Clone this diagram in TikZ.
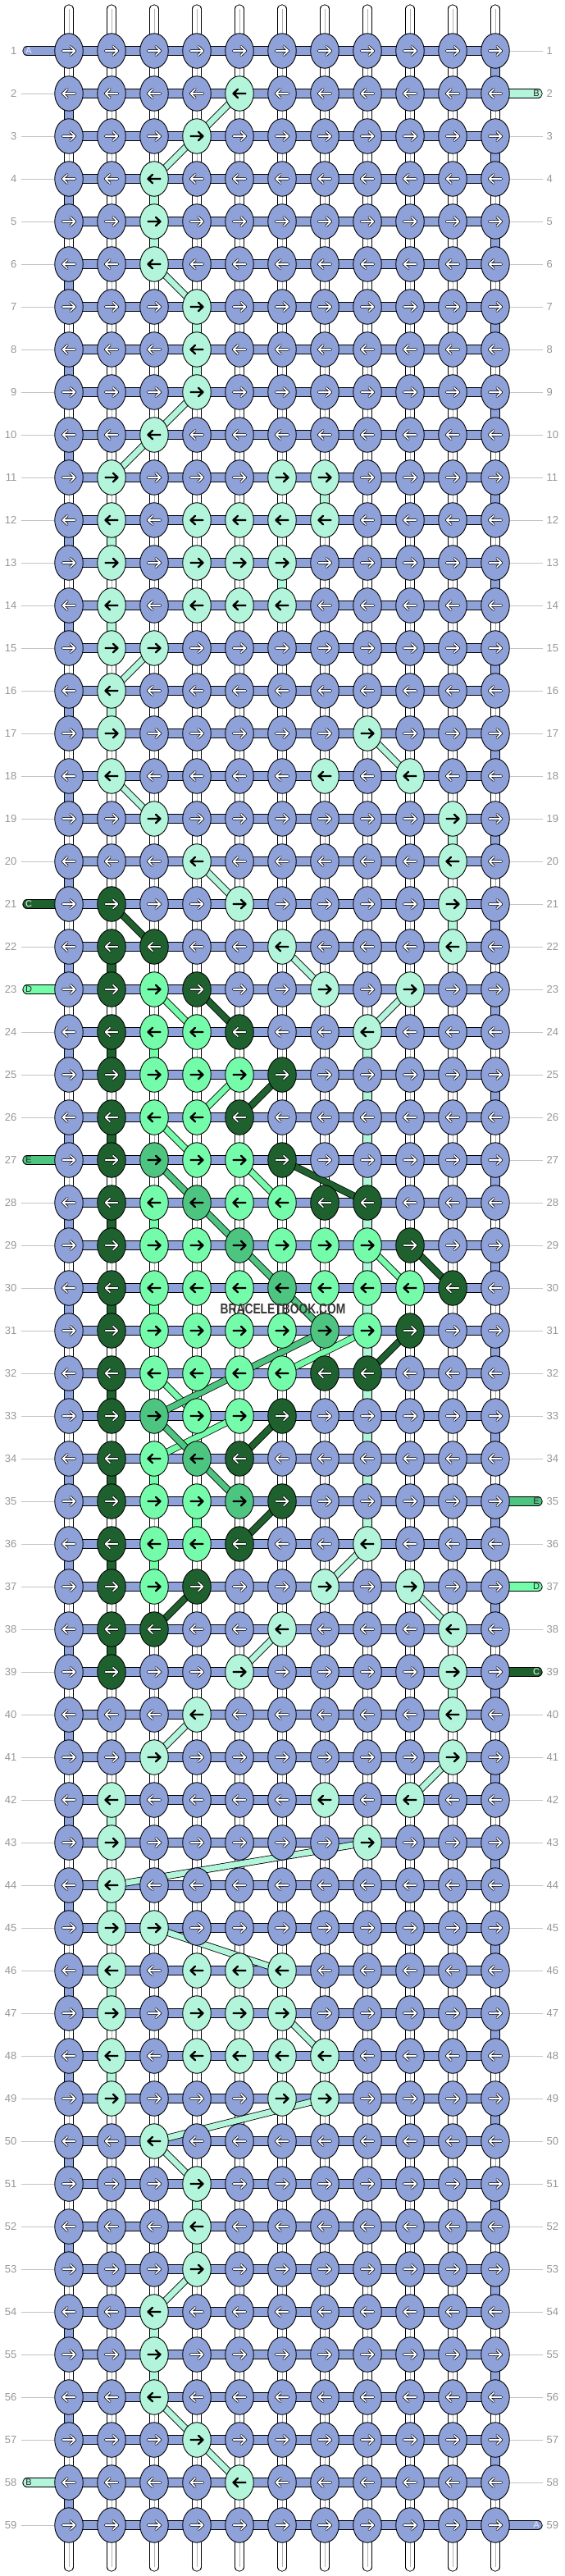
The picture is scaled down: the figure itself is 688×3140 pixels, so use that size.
\documentclass[tikz,border=0pt]{standalone}
\usepackage{graphicx}
\usepackage{fontspec}
\setmainfont{Liberation Sans}
\definecolor{threadA}{RGB}{142,161,217}
\definecolor{threadB}{RGB}{178,245,218}
\definecolor{threadC}{RGB}{31,97,46}
\definecolor{threadD}{RGB}{117,252,170}
\definecolor{threadE}{RGB}{77,196,128}
\definecolor{rowgrey}{RGB}{150,150,150}
\definecolor{tickgrey}{RGB}{195,195,195}
\usetikzlibrary{shapes.geometric}
\pgfdeclarelayer{strings}
\pgfdeclarelayer{bands}
\pgfdeclarelayer{threads}
\pgfsetlayers{strings,bands,threads,main}

\begin{document}
\begin{tikzpicture}[x=1pt,y=-1pt,
    knot/.style={draw,ellipse,line width=0.9pt,minimum width=34.5pt,minimum height=42.5pt,inner sep=0pt},
    basestring/.style={draw=black,line width=0.9pt,double=white,double distance=9.5pt,line cap=round},
    band/.style={draw=black,line width=0.9pt,double=#1,double distance=9.5pt,line cap=round},
    carry/.style={draw=black,line width=0.9pt,double=#1,double distance=9.5pt},
    cross/.style={draw=black,line width=0.8pt,double=#1,double distance=7pt},
    knotarrow/.pic={\draw[pic actions] (-7.5,0) -- (7,0) (2,-5.2) -- (7.5,0) -- (2,5.2);},
    whitearrow/.style={draw=black,line width=0.75pt,double=white,double distance=1.7pt,line cap=round,line join=round},
    blackarrow/.style={draw=black,line width=2.3pt,line cap=round,line join=round},
    arrowA/.style={whitearrow},
    arrowC/.style={whitearrow},
    arrowB/.style={blackarrow},
    arrowD/.style={blackarrow},
    arrowE/.style={blackarrow},
    rownum/.style={text=rowgrey,inner sep=2.5pt,font=\fontsize{13}{13}\selectfont},
    tick/.style={draw=tickgrey,line width=0.8pt},
    tailtext/.style={inner sep=0pt,font=\fontsize{11}{11}\selectfont},
    tailA/.style={tailtext,text=white!80!threadA},
    tailB/.style={tailtext,text=black!85},
    tailC/.style={tailtext,text=white},
    tailD/.style={tailtext,text=black!85},
    tailE/.style={tailtext,text=black!85}
    ]
    \useasboundingbox (0,0) rectangle (688,3140);

    % the knots, one list per row
    \foreach \r/\row in {
        1/{A,A,A,A,A,A,A,A,A,A,A},
        2/{A,A,A,A,B,A,A,A,A,A,A},
        3/{A,A,A,B,A,A,A,A,A,A,A},
        4/{A,A,B,A,A,A,A,A,A,A,A},
        5/{A,A,B,A,A,A,A,A,A,A,A},
        6/{A,A,B,A,A,A,A,A,A,A,A},
        7/{A,A,A,B,A,A,A,A,A,A,A},
        8/{A,A,A,B,A,A,A,A,A,A,A},
        9/{A,A,A,B,A,A,A,A,A,A,A},
        10/{A,A,B,A,A,A,A,A,A,A,A},
        11/{A,B,A,A,A,B,B,A,A,A,A},
        12/{A,B,A,B,B,B,B,A,A,A,A},
        13/{A,B,A,B,B,B,A,A,A,A,A},
        14/{A,B,A,B,B,B,A,A,A,A,A},
        15/{A,B,B,A,A,A,A,A,A,A,A},
        16/{A,B,A,A,A,A,A,A,A,A,A},
        17/{A,B,A,A,A,A,A,B,A,A,A},
        18/{A,B,A,A,A,A,B,A,B,A,A},
        19/{A,A,B,A,A,A,A,A,A,B,A},
        20/{A,A,A,B,A,A,A,A,A,B,A},
        21/{A,C,A,A,B,A,A,A,A,B,A},
        22/{A,C,C,A,A,B,A,A,A,B,A},
        23/{A,C,D,C,A,A,B,A,B,A,A},
        24/{A,C,D,D,C,A,A,B,A,A,A},
        25/{A,C,D,D,D,C,A,A,A,A,A},
        26/{A,C,D,D,C,A,A,A,A,A,A},
        27/{A,C,E,D,D,C,A,A,A,A,A},
        28/{A,C,D,E,D,D,C,C,A,A,A},
        29/{A,C,D,D,E,D,D,D,C,A,A},
        30/{A,C,D,D,D,E,D,D,D,C,A},
        31/{A,C,D,D,D,D,E,D,C,A,A},
        32/{A,C,D,D,D,D,C,C,A,A,A},
        33/{A,C,E,D,D,C,A,A,A,A,A},
        34/{A,C,D,E,C,A,A,A,A,A,A},
        35/{A,C,D,D,E,C,A,A,A,A,A},
        36/{A,C,D,D,C,A,A,B,A,A,A},
        37/{A,C,D,C,A,A,B,A,B,A,A},
        38/{A,C,C,A,A,B,A,A,A,B,A},
        39/{A,C,A,A,B,A,A,A,A,B,A},
        40/{A,A,A,B,A,A,A,A,A,B,A},
        41/{A,A,B,A,A,A,A,A,A,B,A},
        42/{A,B,A,A,A,A,B,A,B,A,A},
        43/{A,B,A,A,A,A,A,B,A,A,A},
        44/{A,B,A,A,A,A,A,A,A,A,A},
        45/{A,B,B,A,A,A,A,A,A,A,A},
        46/{A,B,A,B,B,B,A,A,A,A,A},
        47/{A,B,A,B,B,B,A,A,A,A,A},
        48/{A,B,A,B,B,B,B,A,A,A,A},
        49/{A,B,A,A,A,B,B,A,A,A,A},
        50/{A,A,B,A,A,A,A,A,A,A,A},
        51/{A,A,A,B,A,A,A,A,A,A,A},
        52/{A,A,A,B,A,A,A,A,A,A,A},
        53/{A,A,A,B,A,A,A,A,A,A,A},
        54/{A,A,B,A,A,A,A,A,A,A,A},
        55/{A,A,B,A,A,A,A,A,A,A,A},
        56/{A,A,B,A,A,A,A,A,A,A,A},
        57/{A,A,A,B,A,A,A,A,A,A,A},
        58/{A,A,A,A,B,A,A,A,A,A,A},
        59/{A,A,A,A,A,A,A,A,A,A,A}}{
      \foreach \t [count=\k from 0] in \row {
        \node[knot,fill=thread\t] (k-\r-\k) at ({84+52*\k},{10+52*\r}) {};
        \ifodd\r\relax
          \pic[arrow\t] at (k-\r-\k.center) {knotarrow};
        \else
          \pic[arrow\t,xscale=-1] at (k-\r-\k.center) {knotarrow};
        \fi
      }
      \begin{pgfonlayer}{bands}
        \draw[band=threadA] (k-\r-0.center) -- (k-\r-10.center);
      \end{pgfonlayer}
      \node[rownum,anchor=east] (ln-\r) at (23,{10+52*\r}) {\r};
      \node[rownum,anchor=west] (rn-\r) at (664,{10+52*\r}) {\r};
    }

    % the base strings
    \begin{pgfonlayer}{strings}
      \foreach \c in {0,...,10} {
        \coordinate (top-\c) at ([yshift=51pt]k-1-\c.center);
        \coordinate (bot-\c) at ([yshift=-51pt]k-59-\c.center);
        \draw[basestring] (top-\c) -- (bot-\c);
        \draw[draw=black!30,line width=0.5pt] (top-\c) -- (bot-\c);
      }
    \end{pgfonlayer}

    % row ticks
    \foreach \r in {2,...,20,22,24,25,26,28,29,...,57,59}
      \draw[tick] ([xshift=3pt]ln-\r.east) -- (k-\r-0.west);
    \foreach \r in {1,3,4,...,34,36,38,40,41,...,58}
      \draw[tick] (k-\r-10.east) -- ([xshift=-2pt]rn-\r.west);

    % loose ends of the threads
    \foreach \r/\t in {1/A,21/C,23/D,27/E,58/B} {
      \node[tail\t] (tail-\r) at (35,{10+52*\r}) {\t};
      \begin{pgfonlayer}{bands}
        \draw[band=thread\t] ([xshift=-2pt]tail-\r.center) -- (k-\r-0.center);
      \end{pgfonlayer}
    }
    \foreach \r/\t in {2/B,35/E,37/D,39/C,59/A} {
      \node[tail\t] (tail-\r) at (654,{10+52*\r}) {\t};
      \begin{pgfonlayer}{bands}
        \draw[band=thread\t] ([xshift=2pt]tail-\r.center) -- (k-\r-10.center);
      \end{pgfonlayer}
    }

    % the edges
    \begin{pgfonlayer}{threads}
      % thread A turning at the row ends
      \foreach \r in {1,3,...,57} {
        \pgfmathtruncatemacro\rn{\r+1}
        \draw[carry=threadA] (k-\r-10.center) -- (k-\rn-10.center);
      }
      \foreach \r in {2,4,...,58} {
        \pgfmathtruncatemacro\rn{\r+1}
        \draw[carry=threadA] (k-\r-0.center) -- (k-\rn-0.center);
      }
      % threads B to E
      \foreach \t/\ra/\ca/\rb/\cb in {
          B/2/4/3/3, B/3/3/4/2, B/4/2/5/2, B/5/2/6/2, B/6/2/7/3, B/7/3/8/3,
          B/8/3/9/3, B/9/3/10/2, B/10/2/11/1, B/11/6/12/6, B/12/1/13/1,
          B/13/5/14/5, B/14/1/15/1, B/15/2/16/1, B/16/1/17/1, B/17/7/18/8,
          B/18/1/19/2, B/19/9/20/9, B/20/3/21/4, B/21/9/22/9, B/22/5/23/6,
          B/23/8/24/7, B/24/7/36/7, B/36/7/37/6, B/37/8/38/9, B/38/5/39/4,
          B/39/9/40/9, B/40/3/41/2, B/41/9/42/8, B/42/1/43/1, B/43/7/44/1,
          B/44/1/45/1, B/45/2/46/5, B/46/1/47/1, B/47/5/48/6, B/48/1/49/1,
          B/49/6/50/2, B/50/2/51/3, B/51/3/52/3, B/52/3/53/3, B/53/3/54/2,
          B/54/2/55/2, B/55/2/56/2, B/56/2/57/3, B/57/3/58/4,
          C/21/1/22/2, C/22/1/23/1, C/23/3/24/4, C/24/1/25/1, C/25/5/26/4,
          C/26/1/27/1, C/27/5/28/7, C/28/1/29/1, C/29/8/30/9, C/30/1/31/1,
          C/31/8/32/7, C/32/1/33/1, C/33/5/34/4, C/34/1/35/1, C/35/5/36/4,
          C/36/1/37/1, C/37/3/38/2, C/38/1/39/1,
          D/23/2/24/3, D/24/2/25/2, D/25/4/26/3, D/26/2/27/3, D/27/4/28/5,
          D/28/2/29/2, D/29/7/30/8, D/30/2/31/2, D/31/7/32/5, D/32/2/33/3,
          D/33/4/34/2, D/34/2/35/2, D/35/3/36/3, D/36/2/37/2,
          E/27/2/28/3, E/28/3/29/4, E/29/4/30/5, E/30/5/31/6, E/31/6/33/2,
          E/33/2/34/3, E/34/3/35/4} {
        \ifnum\ca=\cb
          \draw[carry=thread\t] (k-\ra-\ca.center) -- (k-\rb-\cb.center);
        \else
          \draw[cross=thread\t] (k-\ra-\ca.center) -- (k-\rb-\cb.center);
        \fi
      }
    \end{pgfonlayer}

    \node[text=black!78,font=\bfseries\fontsize{17.5}{17.5}\selectfont] (watermark) at (345,1595)
      {\scalebox{0.79}[1]{BRACELETBOOK.COM}};
\end{tikzpicture}
\end{document}
